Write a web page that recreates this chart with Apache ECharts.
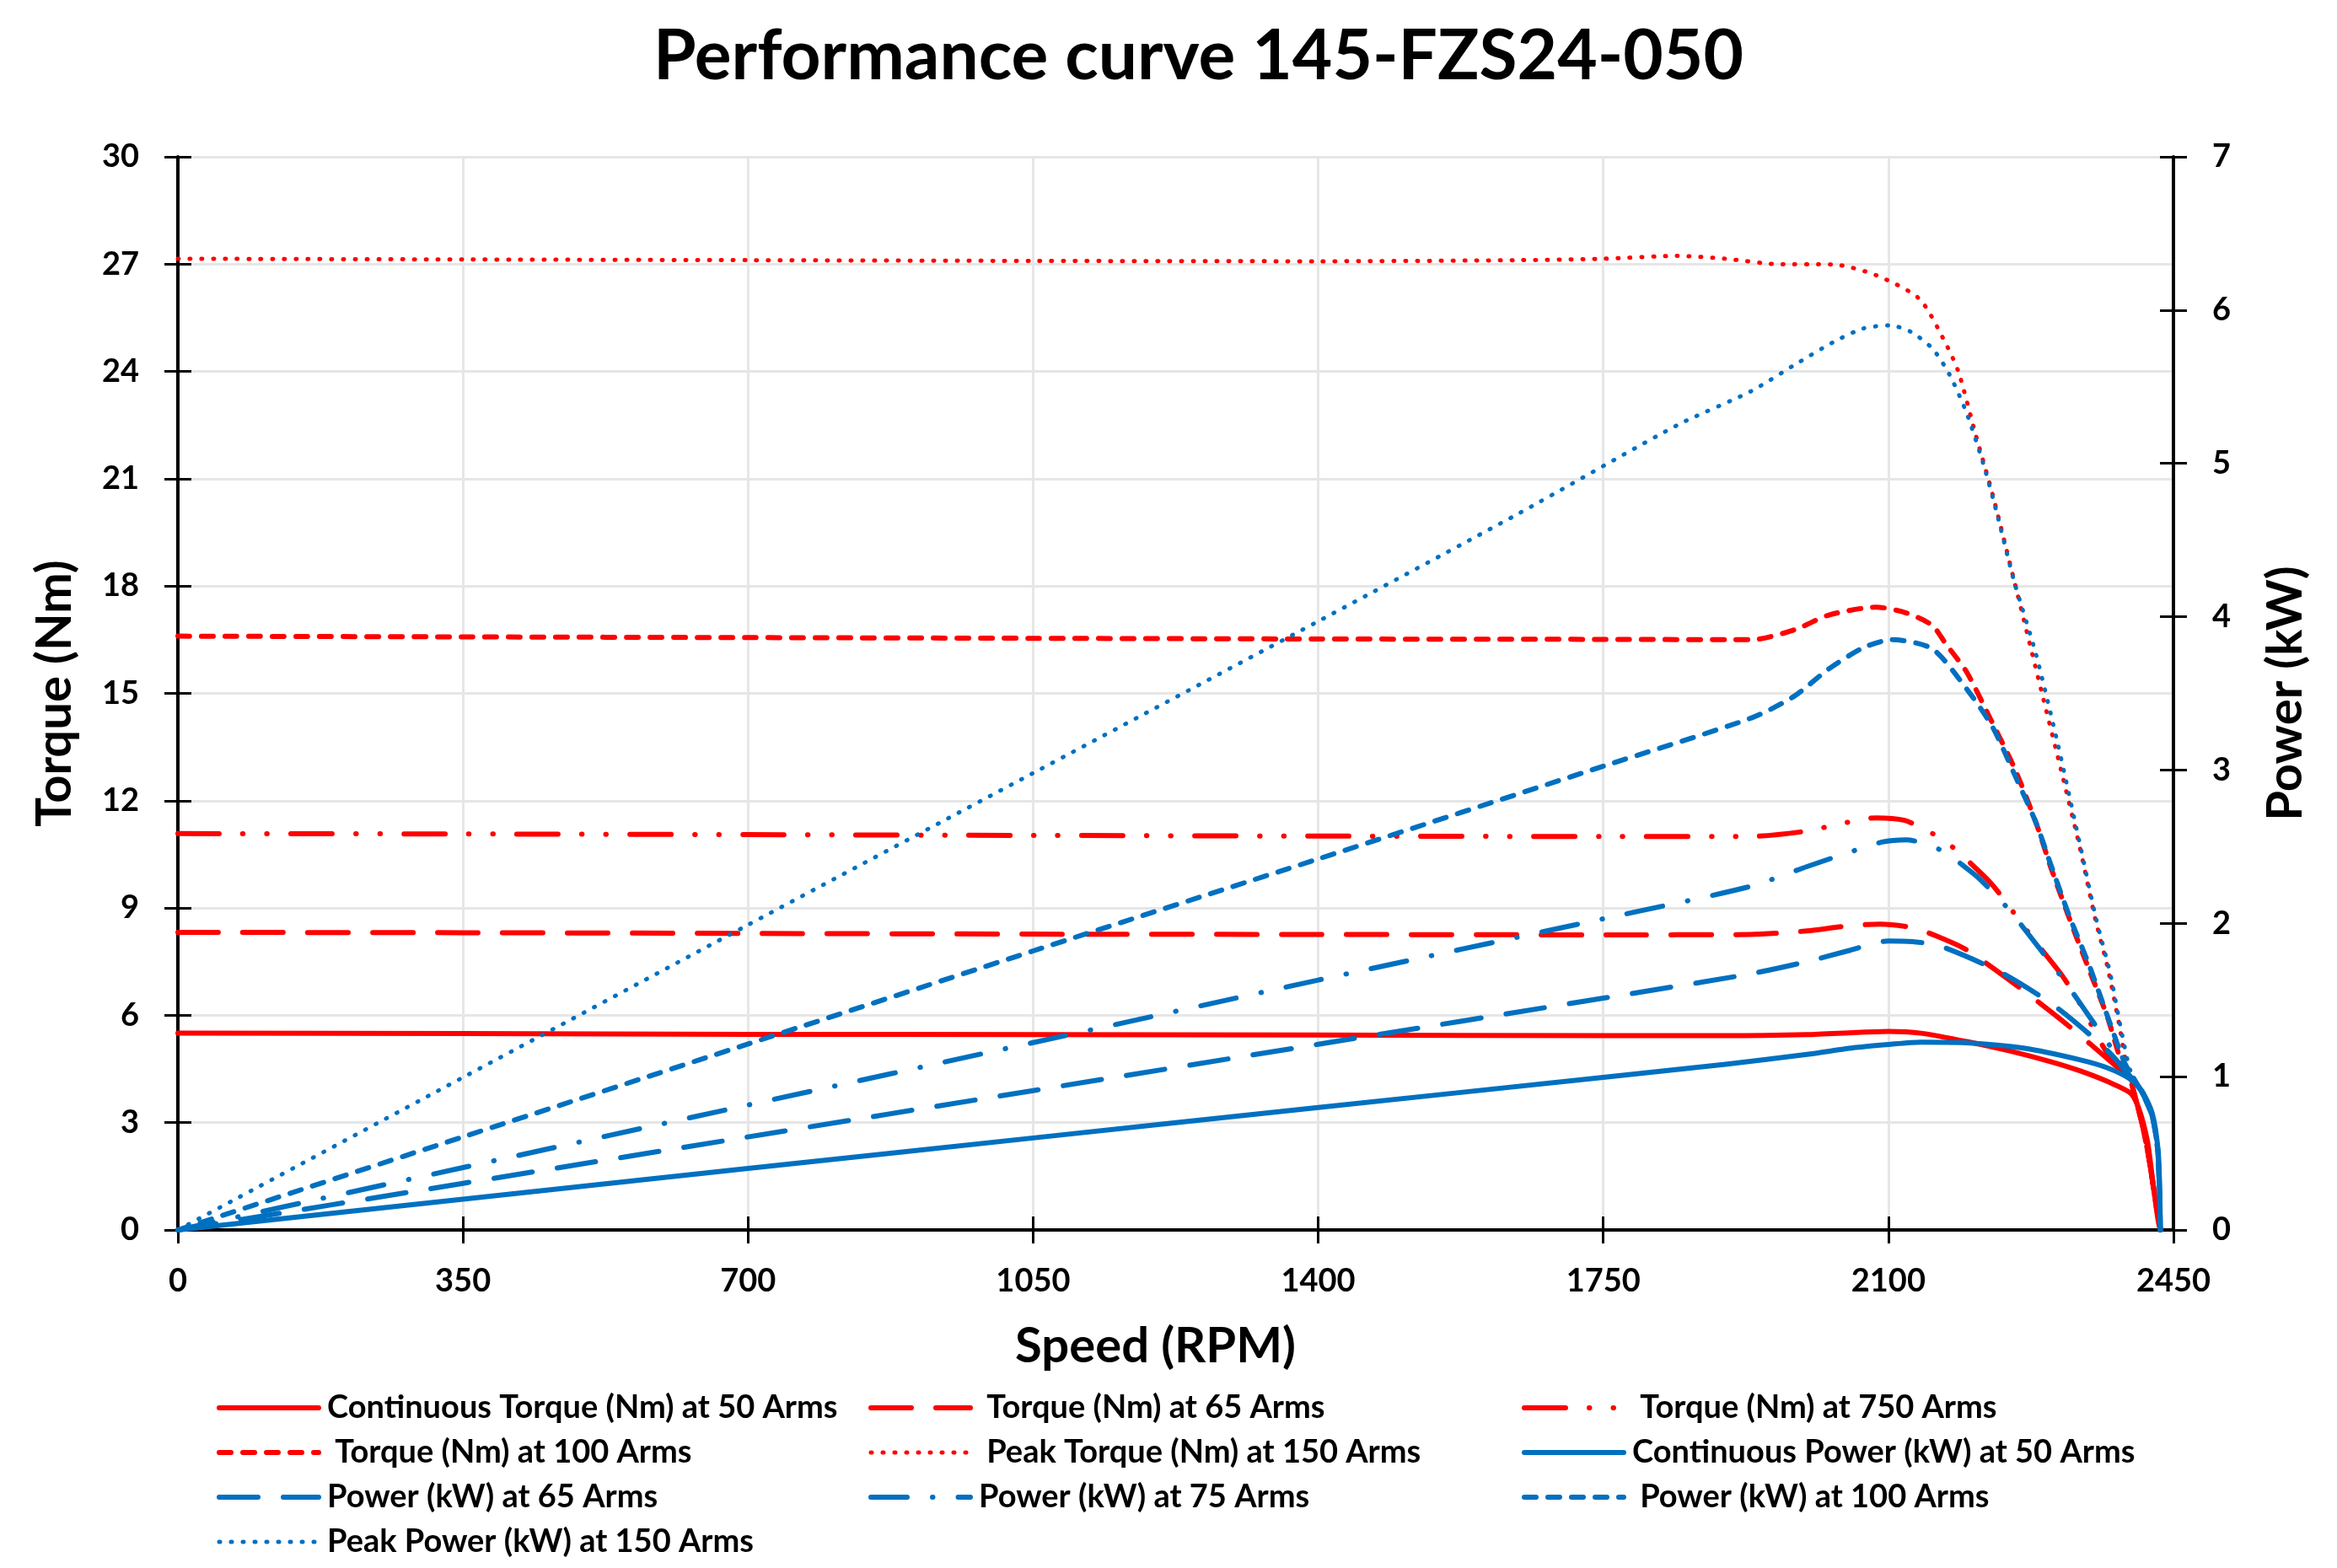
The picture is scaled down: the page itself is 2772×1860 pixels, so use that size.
<!DOCTYPE html>
<html><head><meta charset="utf-8">
<script src="https://cdn.jsdelivr.net/npm/echarts@6/dist/echarts.min.js"></script>
<style>html,body{margin:0;padding:0;background:#fff}#c{width:2772px;height:1860px}</style>
</head><body><div id="c"></div>
<script>
// ---- Data (speed RPM, value) ----
const titleText = 'Performance curve 145-FZS24-050';
const xName = 'Speed (RPM)';
const yLeftName = 'Torque (Nm)';
const yRightName = 'Power (kW)';

const contTorque50 = [[0,5.50],[350,5.49],[700,5.47],[1050,5.46],[1400,5.45],[1750,5.43],[1900,5.43],[2000,5.46],[2060,5.52],[2100,5.55],[2140,5.50],[2200,5.25],[2250,5.00],[2300,4.70],[2335,4.45],[2370,4.14],[2397,3.83],[2407,3.43],[2418,2.49],[2424,1.47],[2431,0.29],[2434,0]];
const torque65 = [[0,8.32],[350,8.31],[700,8.29],[1050,8.27],[1400,8.26],[1750,8.25],[1930,8.26],[2000,8.36],[2050,8.50],[2090,8.55],[2130,8.45],[2162,8.19],[2196,7.83],[2259,6.81],[2321,5.71],[2376,4.65],[2395,4.25],[2410,3.1],[2420,2.0],[2428,0.8],[2434,0]];
const torque750 = [[0,11.08],[350,11.07],[700,11.05],[1050,11.03],[1400,11.01],[1750,11.0],[1930,11.0],[2000,11.15],[2040,11.35],[2085,11.52],[2120,11.45],[2144,11.2],[2168,10.9],[2191,10.46],[2228,9.64],[2262,8.62],[2280,8.07],[2314,7.09],[2342,6.06],[2355,5.47],[2376,4.69],[2395,4.25],[2410,3.1],[2420,2.0],[2428,0.8],[2434,0]];
const torque100 = [[0,16.6],[350,16.58],[700,16.56],[1050,16.54],[1400,16.52],[1750,16.51],[1932,16.5],[1984,16.77],[2027,17.19],[2085,17.41],[2122,17.25],[2154,16.9],[2170,16.4],[2196,15.6],[2225,14.3],[2255,12.9],[2281,11.4],[2300,10.1],[2324,8.6],[2345,7.36],[2369,5.95],[2386,4.7],[2397,4.2],[2410,3.1],[2420,2.0],[2428,0.8],[2434,0]];
const peakTorque150 = [[0,27.15],[350,27.13],[700,27.11],[1050,27.09],[1400,27.08],[1645,27.11],[1750,27.15],[1841,27.23],[1900,27.15],[1963,27.0],[2032,26.99],[2085,26.69],[2138,26.03],[2168,24.89],[2186,23.99],[2207,22.25],[2228,20.56],[2255,18.1],[2288,15.06],[2312,12.86],[2335,10.7],[2354,8.7],[2369,7.36],[2383,5.79],[2393,4.53],[2400,4.0],[2411,3.0],[2421,1.86],[2428,0.7],[2434,0]];
const contPower50 = [[0,0],[350,0.201],[700,0.401],[1050,0.600],[1400,0.799],[1750,0.995],[1900,1.081],[2000,1.145],[2060,1.19],[2100,1.21],[2140,1.225],[2200,1.22],[2266,1.186],[2335,1.11],[2369,1.057],[2397,0.984],[2411,0.91],[2424,0.76],[2431,0.53],[2433,0.3],[2434,0]];
const power65 = [[0,0],[350,0.304],[700,0.607],[1050,0.909],[1400,1.211],[1750,1.512],[1930,1.67],[2000,1.75],[2050,1.82],[2100,1.885],[2130,1.88],[2162,1.855],[2238,1.68],[2307,1.45],[2369,1.17],[2397,1.0],[2411,0.9],[2424,0.74],[2431,0.5],[2434,0]];
const power75 = [[0,0],[350,0.407],[700,0.815],[1050,1.222],[1400,1.63],[1750,2.03],[1930,2.24],[2000,2.37],[2050,2.46],[2092,2.53],[2122,2.545],[2168,2.47],[2191,2.38],[2212,2.29],[2248,2.09],[2266,1.97],[2314,1.64],[2330,1.52],[2347,1.39],[2376,1.17],[2397,1.0],[2411,0.9],[2424,0.74],[2431,0.5],[2434,0]];
const power100 = [[0,0],[350,0.607],[700,1.213],[1050,1.82],[1400,2.42],[1750,3.025],[1932,3.34],[1984,3.48],[2027,3.66],[2070,3.80],[2105,3.85],[2154,3.79],[2196,3.53],[2228,3.28],[2255,2.97],[2281,2.66],[2297,2.42],[2322,2.05],[2347,1.72],[2372,1.35],[2390,1.09],[2400,1.0],[2411,0.9],[2424,0.74],[2431,0.5],[2434,0]];
const peakPower150 = [[0,0],[350,0.995],[700,1.99],[1050,2.98],[1400,3.97],[1645,4.67],[1841,5.25],[1931,5.47],[1984,5.64],[2032,5.79],[2069,5.88],[2102,5.90],[2127,5.86],[2154,5.75],[2175,5.58],[2196,5.33],[2217,4.99],[2233,4.68],[2255,4.22],[2281,3.76],[2308,3.17],[2335,2.52],[2355,2.03],[2372,1.68],[2386,1.30],[2397,1.04],[2411,0.9],[2424,0.74],[2431,0.5],[2434,0]];

const seriesNames = [
  'Continuous Torque (Nm) at 50 Arms',
  ' Torque (Nm) at 65 Arms',
  ' Torque (Nm) at 750 Arms',
  ' Torque (Nm) at 100 Arms',
  ' Peak Torque (Nm) at 150 Arms',
  'Continuous Power (kW) at 50 Arms',
  'Power (kW) at 65 Arms',
  'Power (kW) at 75 Arms',
  ' Power (kW) at 100 Arms',
  'Peak Power (kW) at 150 Arms'
];

const RED = '#FF0000', BLUE = '#0070C0';
const FONT = 'Lato';

function mk(name, data, color, yi, type, width) {
  return {
    name, type: 'line', data, xAxisIndex: 0, yAxisIndex: yi,
    smooth: 0.25, symbol: 'none', showSymbol: false,
    lineStyle: { color, width, type, cap: 'round', join: 'round' },
    itemStyle: { color }, emphasis: { disabled: true }
  };
}

const series = [
  mk(seriesNames[0], contTorque50, RED, 0, 'solid', 6),
  mk(seriesNames[1], torque65, RED, 0, [48, 29], 6),
  mk(seriesNames[2], torque750, RED, 0, [49, 28, 0.5, 28, 0.5, 28], 6),
  mk(seriesNames[3], torque100, RED, 0, [14, 14], 6),
  mk(seriesNames[4], peakTorque150, RED, 0, [1, 13], 5),
  mk(seriesNames[5], contPower50, BLUE, 1, 'solid', 6),
  mk(seriesNames[6], power65, BLUE, 1, [46, 30], 6),
  mk(seriesNames[7], power75, BLUE, 1, [43, 30, 0.5, 30], 6),
  mk(seriesNames[8], power100, BLUE, 1, [14, 14], 6),
  mk(seriesNames[9], peakPower150, BLUE, 1, [1, 13], 5)
];

const labelStyle = { fontFamily: FONT, fontWeight: 'bold', fontSize: 38, color: '#000' };
const nameStyle = { fontFamily: FONT, fontWeight: 'bold', fontSize: 58, color: '#000' };
const axisLineStyle = { show: true, onZero: false, lineStyle: { color: '#000', width: 4 } };
const tickOut = { show: true, inside: false, length: 16, lineStyle: { color: '#000', width: 3 } };
const tickIn = { show: true, inside: true, length: 16, lineStyle: { color: '#000', width: 3 } };
const plainNum = v => String(v);

function legendCol(left, names) {
  return {
    orient: 'vertical', left, top: 1645, data: names, selectedMode: false,
    itemWidth: 118, itemHeight: 12, itemGap: 13,
    itemStyle: { opacity: 0, borderWidth: 0 },
    lineStyle: { width: 'inherit', type: 'inherit', cap: 'round' },
    textStyle: { fontFamily: FONT, fontWeight: 'bold', fontSize: 38, color: '#000', lineHeight: 40, padding: [0, 0, 0, 5] }
  };
}

const option = {
  animation: false,
  backgroundColor: '#fff',
  title: {
    text: titleText, left: 770, top: 22,
    textStyle: { fontFamily: FONT, fontWeight: 'bold', fontSize: 82, color: '#000' }
  },
  legend: [
    legendCol(252, [seriesNames[0], seriesNames[3], seriesNames[6], seriesNames[9]]),
    legendCol(1025, [seriesNames[1], seriesNames[4], seriesNames[7]]),
    legendCol(1800, [seriesNames[2], seriesNames[5], seriesNames[8]])
  ],
  grid: { left: 211, right: 194, top: 186, bottom: 401, containLabel: false },
  xAxis: [
    {
      type: 'value', min: 0, max: 2450, interval: 350, position: 'bottom',
      name: xName, nameLocation: 'middle', nameGap: 109,
      nameTextStyle: Object.assign({ padding: [0, 48, 0, 0] }, nameStyle),
      axisLine: axisLineStyle, axisTick: tickOut,
      axisLabel: Object.assign({ margin: 42, formatter: plainNum }, labelStyle),
      splitLine: { show: true, lineStyle: { color: '#E6E6E6', width: 3 } }
    },
    {
      type: 'value', min: 0, max: 2450, interval: 350, position: 'bottom',
      axisLine: { show: false, onZero: false }, axisTick: tickIn,
      axisLabel: { show: false }, splitLine: { show: false }
    }
  ],
  yAxis: [
    {
      type: 'value', min: 0, max: 30, interval: 3, position: 'left',
      name: yLeftName, nameLocation: 'middle', nameGap: 117, nameRotate: 90,
      nameTextStyle: nameStyle,
      axisLine: axisLineStyle, axisTick: tickOut,
      axisLabel: Object.assign({ margin: 46, formatter: plainNum }, labelStyle),
      splitLine: { show: true, lineStyle: { color: '#E6E6E6', width: 3 } }
    },
    {
      type: 'value', min: 0, max: 7, interval: 1, position: 'right',
      name: yRightName, nameLocation: 'middle', nameGap: 104, nameRotate: 90,
      nameTextStyle: nameStyle,
      axisLine: axisLineStyle, axisTick: tickOut,
      axisLabel: Object.assign({ margin: 46, formatter: plainNum }, labelStyle),
      splitLine: { show: false }
    },
    {
      type: 'value', min: 0, max: 30, interval: 3, position: 'left',
      axisLine: { show: false, onZero: false }, axisTick: tickIn,
      axisLabel: { show: false }, splitLine: { show: false }
    },
    {
      type: 'value', min: 0, max: 7, interval: 1, position: 'right',
      axisLine: { show: false, onZero: false }, axisTick: tickIn,
      axisLabel: { show: false }, splitLine: { show: false }
    }
  ],
  series
};

const chart = echarts.init(document.getElementById('c'), null, { renderer: 'canvas', width: 2772, height: 1860 });
chart.setOption(option);
</script>
</body></html>
